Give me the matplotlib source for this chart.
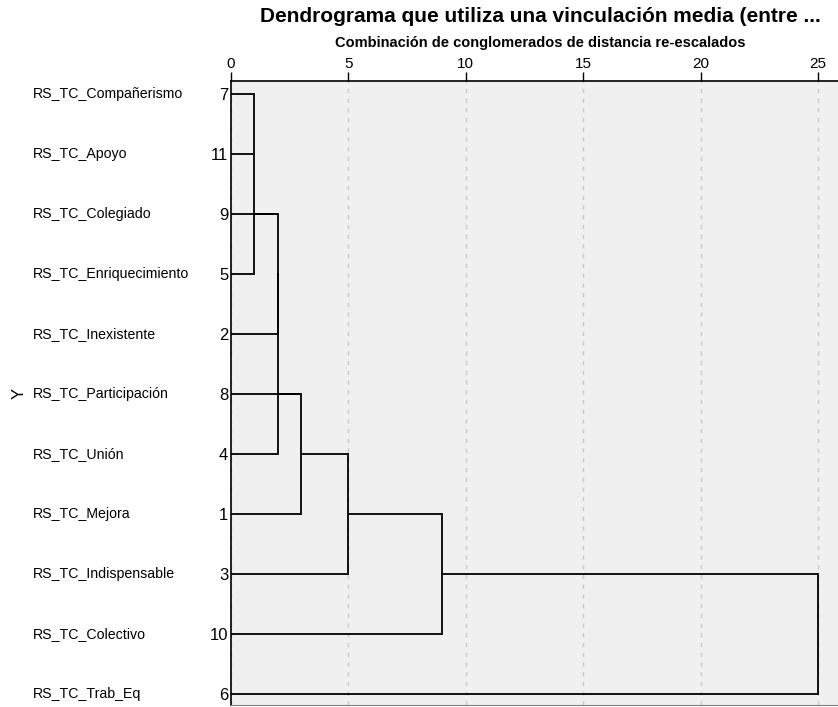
import math
import matplotlib
matplotlib.use("Agg")
import matplotlib.pyplot as plt
import matplotlib.transforms as mtransforms

plt.rcParams['font.family'] = ['Liberation Sans', 'DejaVu Sans']

# leaves, top to bottom
leaf_cases = [7, 11, 9, 5, 2, 8, 4, 1, 3, 10, 6]
leaf_labels = ["RS_TC_Compañerismo", "RS_TC_Apoyo", "RS_TC_Colegiado",
               "RS_TC_Enriquecimiento", "RS_TC_Inexistente", "RS_TC_Participación",
               "RS_TC_Unión", "RS_TC_Mejora", "RS_TC_Indispensable",
               "RS_TC_Colectivo", "RS_TC_Trab_Eq"]

# agglomeration steps (rescaled distance 0-25)
merge_a = ["7", "c1", "c2", "c3", "c4", "c5", "c6", "c7", "c8", "c9"]
merge_b = ["11", "5", "9", "2", "4", "8", "1", "3", "10", "6"]
merge_dist = [1.0, 1.0, 2.0, 2.0, 2.0, 3.0, 3.0, 5.0, 9.0, 25.0]

title = "Dendrograma que utiliza una vinculación media (entre ..."
subtitle = "Combinación de conglomerados de distancia re-escalados"

fig = plt.figure(figsize=(8.38, 7.07), dpi=100)
W, H = 838, 707
ax = fig.add_axes([231 / W, 1 - 705 / H, (W - 231) / W, (705 - 81) / H])
ax.set_facecolor("#f0f0f0")

pos = {str(c): i for i, c in enumerate(leaf_cases)}
height = {str(c): 0.0 for c in leaf_cases}

for k, (a, b, d) in enumerate(zip(merge_a, merge_b, merge_dist)):
    for child in (a, b):
        ax.plot([height[child], d], [pos[child], pos[child]], color="black", lw=1.3,
                solid_capstyle="butt", zorder=3)
    ax.plot([d, d], [pos[a], pos[b]], color="black", lw=1.3,
            solid_capstyle="projecting", zorder=3)
    name = "c%d" % (k + 1)
    pos[name] = math.floor((pos[a] + pos[b]) / 2 + 0.5)
    height[name] = d

x_per_px = 25 / (818 - 231)
ax.set_xlim(0, (W - 231) * x_per_px)
ax.set_ylim(10.18, -0.22)

ax.xaxis.tick_top()
ax.set_xticks([0, 5, 10, 15, 20, 25])
ax.tick_params(axis="x", direction="out", length=6.5, width=1, color="black",
               labelsize=11, pad=0.5)
ax.xaxis.grid(True, linestyle=(0, (3, 4)), color="#c8c8c8", lw=1)
ax.set_axisbelow(True)

ax.set_yticks(range(len(leaf_cases)))
ax.set_yticklabels([str(c) for c in leaf_cases], fontsize=12)
ax.tick_params(axis="y", length=0, pad=2)

for side in ("left", "top"):
    ax.spines[side].set_color("black")
    ax.spines[side].set_linewidth(1.2)
ax.spines["bottom"].set_color("#808080")
ax.spines["right"].set_visible(False)

trans = mtransforms.blended_transform_factory(fig.transFigure, ax.transData)
for i, lab in enumerate(leaf_labels):
    ax.text(33 / W, i, lab, transform=trans, ha="left", va="center", fontsize=10.2)

ax.set_ylabel("Y", fontsize=12, rotation=90)
ax.yaxis.set_label_coords((27 - 231) / (W - 231), 0.5)

fig.text(540 / W, 1 - 16 / H, title, ha="center", va="center", fontsize=15,
         fontweight="bold")
fig.text(540 / W, 1 - 43 / H, subtitle, ha="center", va="center", fontsize=10.5,
         fontweight="bold")

fig.savefig("out.png", dpi=100)
